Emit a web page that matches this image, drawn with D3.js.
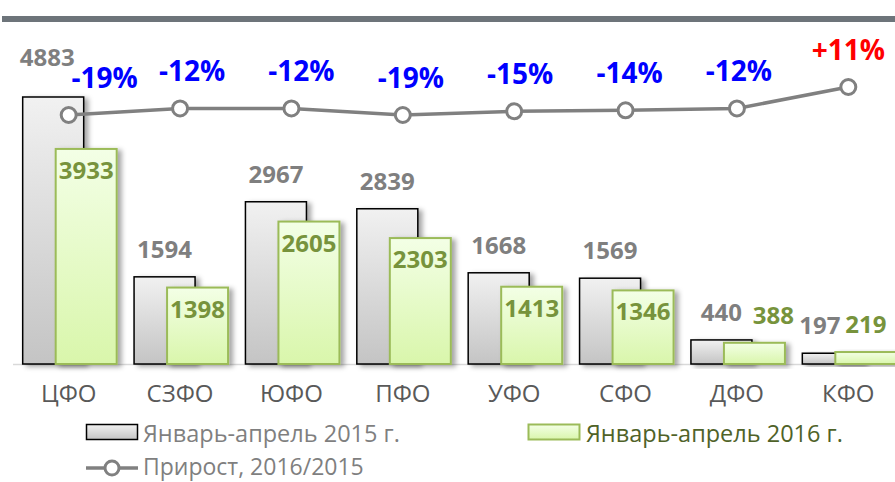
<!DOCTYPE html>
<html>
<head>
<meta charset="utf-8">
<script src="https://cdn.jsdelivr.net/npm/d3@7"></script>
<style>
  body { margin: 0; background: #fff; }
  svg { display: block; font-family: "Open Sans", "Noto Sans", sans-serif; }
</style>
</head>
<body>
<div id="chart"></div>
<script>
// values
var districts = ["ЦФО", "СЗФО", "ЮФО", "ПФО", "УФО", "СФО", "ДФО", "КФО"];
var sales2015 = [4883, 1594, 2967, 2839, 1668, 1569, 440, 197];
var sales2016 = [3933, 1398, 2605, 2303, 1413, 1346, 388, 219];
var growth = [-19, -12, -12, -19, -15, -14, -12, 11];
var legendNames = ["Январь-апрель 2015 г.", "Январь-апрель 2016 г.", "Прирост, 2016/2015"];

var width = 895, height = 482,
  plot = { left: 14, right: 905, top: 90.6, bottom: 364 };

var rows = districts.map(function (d, i) {
  return { name: d, v15: sales2015[i], v16: sales2016[i], g: growth[i], i: i };
});

var svg = d3.select("#chart").append("svg")
  .attr("width", width)
  .attr("height", height);

var defs = svg.append("defs");

var grad15 = defs.append("linearGradient").attr("id", "g15")
  .attr("x1", 0).attr("y1", 0).attr("x2", 0).attr("y2", 1);
grad15.append("stop").attr("offset", "0%").attr("stop-color", "#f1f1f1");
grad15.append("stop").attr("offset", "100%").attr("stop-color", "#c4c4c4");

var grad16 = defs.append("linearGradient").attr("id", "g16")
  .attr("x1", 0).attr("y1", 0).attr("x2", 0).attr("y2", 1);
grad16.append("stop").attr("offset", "0%").attr("stop-color", "#f3ffe6");
grad16.append("stop").attr("offset", "100%").attr("stop-color", "#d9f6ab");

var shadow = defs.append("filter").attr("id", "shadow")
  .attr("x", "-20%").attr("y", "-20%").attr("width", "150%").attr("height", "140%");
shadow.append("feDropShadow")
  .attr("dx", 4).attr("dy", 2).attr("stdDeviation", 2.5)
  .attr("flood-color", "#000").attr("flood-opacity", 0.35);

// top rule (title is cropped off in the picture)
svg.append("rect")
  .attr("x", 2).attr("y", 16).attr("width", width - 2).attr("height", 6)
  .attr("fill", "#6d747a");

// scales
var x = d3.scaleBand()
  .domain(districts)
  .range([plot.left, plot.right])
  .paddingInner(0)
  .paddingOuter(0);

var barW = 61, shift = 33;
var groupLeft = function (d) { return x(d.name) + (x.bandwidth() - barW - shift) / 2; };

var y = d3.scaleLinear()
  .domain([0, 5000])
  .range([plot.bottom, plot.top]);

var y2 = d3.scaleLinear()
  .domain([-19, 11])
  .range([115, 87]);

// baseline
svg.append("line")
  .attr("x1", 13).attr("x2", width)
  .attr("y1", plot.bottom + 0.5).attr("y2", plot.bottom + 0.5)
  .attr("stroke", "#d9d9d9").attr("stroke-width", 1.5);

// bars
var groups = svg.selectAll(".grp")
  .data(rows)
  .enter().append("g")
  .attr("class", "grp");

groups.append("rect")
  .attr("x", function (d) { return groupLeft(d); })
  .attr("y", function (d) { return y(d.v15); })
  .attr("width", barW)
  .attr("height", function (d) { return y(0) - y(d.v15); })
  .attr("fill", "url(#g15)")
  .attr("stroke", "#000")
  .attr("stroke-width", 1.5)
  .attr("filter", "url(#shadow)");

groups.append("rect")
  .attr("x", function (d) { return groupLeft(d) + shift; })
  .attr("y", function (d) { return y(d.v16); })
  .attr("width", barW)
  .attr("height", function (d) { return y(0) - y(d.v16); })
  .attr("fill", "url(#g16)")
  .attr("stroke", "#9bbb59")
  .attr("stroke-width", 2)
  .attr("filter", "url(#shadow)");

// growth line
var cx = function (d) { return x(d.name) + x.bandwidth() / 2 - 1; };
var line = d3.line()
  .x(cx)
  .y(function (d) { return y2(d.g); });

svg.append("path")
  .datum(rows)
  .attr("d", line)
  .attr("fill", "none")
  .attr("stroke", "#808080")
  .attr("stroke-width", 3.5);

svg.selectAll(".marker")
  .data(rows)
  .enter().append("circle")
  .attr("class", "marker")
  .attr("cx", cx)
  .attr("cy", function (d) { return y2(d.g); })
  .attr("r", 7.5)
  .attr("fill", "#fff")
  .attr("stroke", "#808080")
  .attr("stroke-width", 3);

// 2015 value labels
groups.append("text")
  .attr("x", function (d) {
    var dx = 0;
    if (d.v15 < 1000 && d.v16 > d.v15) dx = -13;
    if (d.i === 0) dx = -6;
    return groupLeft(d) + barW / 2 + dx;
  })
  .attr("y", function (d) {
    var ly = y(d.v15) - 19;
    // keep clear of the growth line
    if (ly < y2(d.g) + 30) ly = y2(d.g) - 49;
    return ly;
  })
  .attr("text-anchor", "middle")
  .attr("font-size", 24)
  .attr("font-weight", "bold")
  .attr("fill", "#7f7f7f")
  .text(function (d) { return d.v15; });

// 2016 value labels
groups.append("text")
  .attr("x", function (d) { return groupLeft(d) + shift + barW / 2 + (d.v16 < 1000 && d.v16 < d.v15 ? 19 : 0); })
  .attr("y", function (d) { return d.v16 > 1000 ? y(d.v16) + 30 : y(d.v16) - 19; })
  .attr("text-anchor", "middle")
  .attr("font-size", 24)
  .attr("font-weight", "bold")
  .attr("fill", "#77933c")
  .text(function (d) { return d.v16; });

// growth labels
svg.selectAll(".pct")
  .data(rows)
  .enter().append("text")
  .attr("class", "pct")
  .attr("x", function (d) { return cx(d) + (d.i === 0 ? 36 : (d.g > 0 ? 0 : Math.max(0, 14 - d.i * 2))); })
  .attr("y", function (d) { return y2(d.g) - 27; })
  .attr("text-anchor", "middle")
  .attr("font-size", 28)
  .attr("font-weight", "bold")
  .attr("fill", function (d) { return d.g > 0 ? "#ff0000" : "#0000ff"; })
  .text(function (d) { return (d.g > 0 ? "+" : "") + d.g + "%"; });

// category axis
var xAxis = d3.axisBottom(x).tickSize(0).tickPadding(0);
var gx = svg.append("g")
  .attr("transform", "translate(-1," + plot.bottom + ")")
  .call(xAxis);
gx.select(".domain").remove();
gx.selectAll("text")
  .attr("dy", 0)
  .attr("y", 38)
  .attr("font-family", "\"Open Sans\", sans-serif")
  .attr("font-size", 24)
  .attr("fill", "#595959");

// legend
var leg = svg.append("g");
leg.append("rect")
  .attr("x", 86.5).attr("y", 424.5).attr("width", 51).attr("height", 15)
  .attr("fill", "url(#g15)").attr("stroke", "#000").attr("stroke-width", 1.5);
leg.append("text")
  .attr("x", 143).attr("y", 442)
  .attr("font-size", 23.5).attr("fill", "#7f7f7f")
  .text(legendNames[0]);

leg.append("rect")
  .attr("x", 528.5).attr("y", 424.5).attr("width", 51).attr("height", 15)
  .attr("fill", "url(#g16)").attr("stroke", "#9bbb59").attr("stroke-width", 2);
leg.append("text")
  .attr("x", 586).attr("y", 442)
  .attr("font-size", 23.5).attr("fill", "#4f6228")
  .text(legendNames[1]);

leg.append("line")
  .attr("x1", 86).attr("x2", 138).attr("y1", 468).attr("y2", 468)
  .attr("stroke", "#808080").attr("stroke-width", 3.5);
leg.append("circle")
  .attr("cx", 112).attr("cy", 468).attr("r", 7)
  .attr("fill", "#fff").attr("stroke", "#808080").attr("stroke-width", 3);
leg.append("text")
  .attr("x", 143).attr("y", 475)
  .attr("font-size", 23).attr("fill", "#7f7f7f")
  .text(legendNames[2]);
</script>
</body>
</html>
